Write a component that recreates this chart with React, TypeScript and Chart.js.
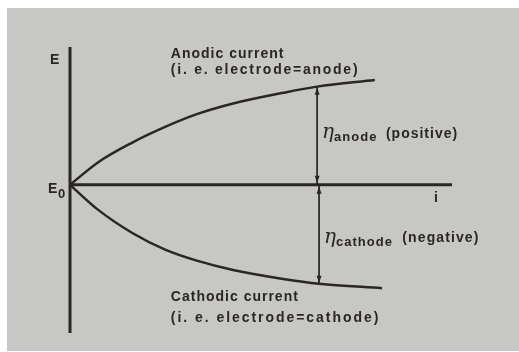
import React, { useEffect, useRef } from "react";
import { Chart, registerables } from "chart.js";

Chart.register(...registerables);

// Current (i) and potential (E) values (E0 = 0)
const anodicI = [0, 0.73, 1.62, 2.49, 3.32, 4.27, 5.58, 6.47, 7.98];
const anodicE = [0, 0.65, 1.22, 1.68, 2.05, 2.36, 2.67, 2.85, 3.04];
const cathodicI = [0, 0.73, 1.62, 2.49, 3.32, 4.27, 5.58, 6.52, 8.17];
const cathodicE = [0, -0.72, -1.39, -1.88, -2.2, -2.47, -2.73, -2.87, -3.0];
const arrowIndex = 7; // where the overpotential arrows are drawn
const iRange = [0, 10];
const eRange = [-4.3, 4];

const INK = "#2b2523";

function pts(xs: number[], ys: number[]) {
  return xs.map((x, k) => ({ x, y: ys[k] }));
}

const decorPlugin = {
  id: "decor",
  beforeDraw(chart: any) {
    const { ctx, width, height } = chart;
    ctx.save();
    ctx.fillStyle = "#ffffff";
    ctx.fillRect(0, 0, width, height);
    ctx.fillStyle = "#c7c8c5";
    ctx.fillRect(7, 8, width - 7, height - 9);
    ctx.restore();
  },
  afterDatasetsDraw(chart: any) {
    const { ctx } = chart;
    const xs = chart.scales.x;
    const ys = chart.scales.y;
    const px = (v: number) => xs.getPixelForValue(v);
    const py = (v: number) => ys.getPixelForValue(v);

    // arrowheads
    const head = (x: number, y: number, dir: number) => {
      ctx.beginPath();
      ctx.moveTo(x, y);
      ctx.lineTo(x - 2.5, y - dir * 7);
      ctx.lineTo(x + 2.5, y - dir * 7);
      ctx.closePath();
      ctx.fill();
    };
    ctx.save();
    ctx.fillStyle = INK;
    const ax = px(anodicI[arrowIndex]);
    head(ax, py(anodicE[arrowIndex]) + 1, -1);
    head(ax, py(0) - 2, 1);
    const cx = px(cathodicI[arrowIndex]);
    head(cx, py(0) + 2, -1);
    head(cx, py(cathodicE[arrowIndex]) - 1, 1);
    ctx.restore();

    const text = (
      s: string,
      x: number,
      y: number,
      font: string,
      spacing = "0.8px"
    ) => {
      ctx.save();
      ctx.font = font;
      (ctx as any).letterSpacing = spacing;
      ctx.fillStyle = INK;
      ctx.textBaseline = "middle";
      ctx.textAlign = "left";
      ctx.fillText(s, x, y);
      ctx.restore();
    };
    const F = "bold 14px 'Liberation Sans', Arial, sans-serif";
    const FS = "bold 13px 'Liberation Sans', Arial, sans-serif";
    const ETA = "italic 20px 'DejaVu Serif', serif";

    text("Anodic current", px(2.64), py(3.8), F, "1px");
    text("(i. e. electrode=anode)", px(2.64), py(3.33), F, "1.75px");
    text("Cathodic current", px(2.64), py(-3.25), F, "1px");
    text("(i. e. electrode=cathode)", px(2.64), py(-3.86), F, "1.95px");

    // eta anode
    let x0 = px(6.6);
    text("\u03b7", x0, py(1.5), ETA, "0px");
    text("anode", x0 + 12, py(1.38), FS, "1px");
    text("(positive)", px(8.27), py(1.48), F, "1px");
    // eta cathode
    x0 = px(6.65);
    text("\u03b7", x0, py(-1.55), ETA, "0px");
    text("cathode", x0 + 12, py(-1.67), FS, "1px");
    text("(negative)", px(8.7), py(-1.55), F, "1.1px");

    // axis labels
    text("E", px(0) - 20, py(3.62), F, "0px");
    text("E", px(0) - 22, py(-0.12), F, "0px");
    text("0", px(0) - 12, py(-0.28), FS, "0px");
    text("i", px(9.53), py(-0.38), F, "0px");
  },
};

export default function App() {
  const ref = useRef<HTMLCanvasElement | null>(null);
  useEffect(() => {
    document.body.style.margin = "0";
    const canvas = ref.current!;
    const line = (data: any[], width: number, extra: any = {}) => ({
      data,
      showLine: true,
      borderColor: INK,
      borderWidth: width,
      pointRadius: 0,
      fill: false,
      clip: false,
      ...extra,
    });
    const chart = new Chart(canvas, {
      type: "scatter",
      data: {
        datasets: [
          line(pts([0, 0], eRange), 3),
          line(pts(iRange, [0, 0]), 3),
          line(pts(anodicI, anodicE), 2.5, { cubicInterpolationMode: "monotone" }),
          line(pts(cathodicI, cathodicE), 2.5, { cubicInterpolationMode: "monotone" }),
          line(pts([anodicI[arrowIndex], anodicI[arrowIndex]], [anodicE[arrowIndex], 0]), 1),
          line(pts([cathodicI[arrowIndex], cathodicI[arrowIndex]], [0, cathodicE[arrowIndex]]), 1),
        ],
      },
      options: {
        animation: false,
        responsive: false,
        layout: { padding: { left: 70, right: 67, top: 47, bottom: 19 } },
        scales: {
          x: { type: "linear", min: iRange[0], max: iRange[1], display: false },
          y: { type: "linear", min: eRange[0], max: eRange[1], display: false },
        },
        plugins: { legend: { display: false }, tooltip: { enabled: false } },
      },
      plugins: [decorPlugin],
    });
    return () => chart.destroy();
  }, []);
  return <canvas ref={ref} width={519} height={352} style={{ display: "block" }} />;
}
